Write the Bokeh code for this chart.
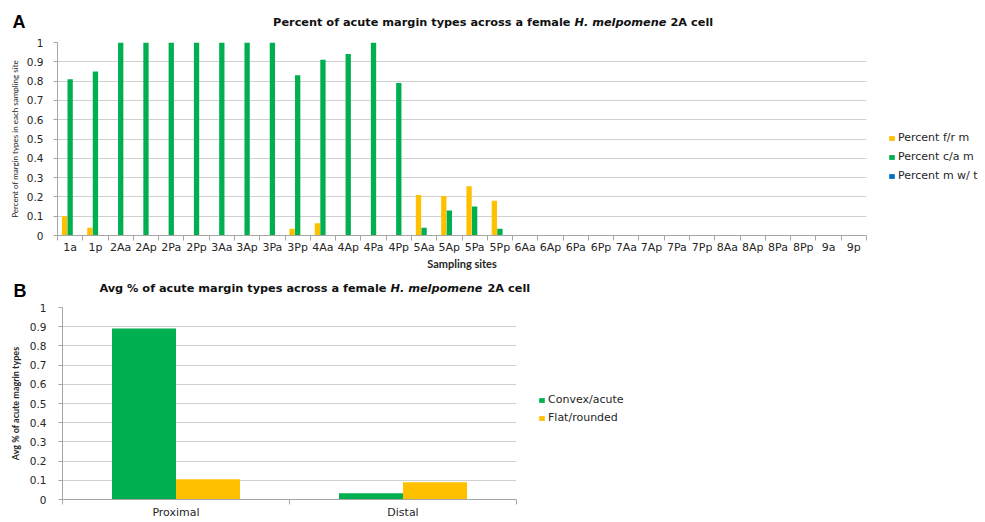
from bokeh.plotting import figure
from bokeh.models import Range1d, FixedTicker, Label, Legend, LegendItem, NumeralTickFormatter
from bokeh.embed import file_html
from bokeh.resources import INLINE

# ---------------- data ----------------
sites = ["1a", "1p", "2Aa", "2Ap", "2Pa", "2Pp", "3Aa", "3Ap", "3Pa", "3Pp",
         "4Aa", "4Ap", "4Pa", "4Pp", "5Aa", "5Ap", "5Pa", "5Pp", "6Aa", "6Ap",
         "6Pa", "6Pp", "7Aa", "7Ap", "7Pa", "7Pp", "8Aa", "8Ap", "8Pa", "8Pp",
         "9a", "9p"]
pct_fr = [0.10, 0.04, 0, 0, 0, 0, 0, 0, 0, 0.035,
          0.063, 0, 0, 0, 0.21, 0.205, 0.255, 0.18, 0, 0,
          0, 0, 0, 0, 0, 0, 0, 0, 0, 0,
          0, 0]
pct_ca = [0.81, 0.85, 1, 1, 1, 1, 1, 1, 1, 0.83,
          0.91, 0.94, 1, 0.79, 0.04, 0.13, 0.15, 0.035, 0, 0,
          0, 0, 0, 0, 0, 0, 0, 0, 0, 0,
          0, 0]
pct_mt = [0, 0, 0, 0, 0, 0, 0, 0, 0, 0,
          0, 0, 0, 0, 0, 0, 0, 0, 0, 0,
          0, 0, 0, 0, 0, 0, 0, 0, 0, 0,
          0, 0]
series_top = ["Percent f/r m", "Percent c/a m", "Percent m w/ t"]

regions = ["Proximal", "Distal"]
avg_convex = [0.89, 0.033]
avg_flat = [0.105, 0.09]
series_bottom = ["Convex/acute", "Flat/rounded"]

y_ticks = [0, 0.1, 0.2, 0.3, 0.4, 0.5, 0.6, 0.7, 0.8, 0.9, 1]

YELLOW = "#FFC000"
GREEN = "#00B050"
BLUE = "#0070C0"
GRID = "#d0d0d0"
AXIS = "#a6a6a6"
TXT = "#262626"
W = 980


def style(p):
    p.outline_line_color = None
    p.xgrid.grid_line_color = None
    p.ygrid.grid_line_color = GRID
    p.ygrid.grid_line_width = 1
    for ax in (p.xaxis[0], p.yaxis[0]):
        ax.axis_line_color = AXIS
        ax.major_label_text_color = TXT
        ax.axis_label_text_color = TXT
    p.yaxis.ticker = FixedTicker(ticks=y_ticks)
    p.yaxis.formatter = NumeralTickFormatter(format="0.[0]")
    p.yaxis.major_tick_line_color = AXIS
    p.yaxis.major_tick_out = 4
    p.yaxis.major_tick_in = 0
    p.yaxis.minor_tick_line_color = None
    p.yaxis.major_label_text_font = "DejaVu Sans"
    p.yaxis.major_label_text_font_size = "10.5px"
    p.xaxis.major_tick_line_color = None
    p.xaxis.major_tick_out = 0
    p.xaxis.major_tick_in = 0
    p.xaxis.minor_tick_line_color = AXIS
    p.xaxis.minor_tick_out = 5
    p.xaxis.minor_tick_in = 0
    p.xaxis.major_label_text_font = "DejaVu Sans"
    p.xaxis.major_label_text_font_size = "11px"


def header(height, letter, letter_x, letter_y, x_first, x_italic, x_last, title_y,
           first, italic, last):
    h = figure(frame_width=W, frame_height=height, x_range=Range1d(0, W), y_range=Range1d(0, height),
               output_backend="svg", toolbar_location=None, min_border=0,
               x_axis_type=None, y_axis_type=None)
    h.outline_line_color = None
    h.xgrid.grid_line_color = None
    h.ygrid.grid_line_color = None
    common = dict(x_units="screen", y_units="screen", y=title_y, text_baseline="middle",
                  text_font="DejaVu Sans", text_font_size="11.3px", text_color="#111111")
    h.add_layout(Label(x=x_first, text=first, text_align="right",
                       text_font_style="bold", **common))
    h.add_layout(Label(x=x_italic, text=italic, text_align="left",
                       text_font_style="bold italic", **common))
    h.add_layout(Label(x=x_last, text=last, text_align="left",
                       text_font_style="bold", **common))
    h.add_layout(Label(x=letter_x, y=letter_y, x_units="screen", y_units="screen", text=letter,
                       text_baseline="middle", text_font="Liberation Sans",
                       text_font_style="bold", text_font_size="18px", text_color="#000000"))
    return h


# ---------------- chart A ----------------
hA = header(34, "A", 12, 13, 570, 574, 670, 12,
            "Percent of acute margin types across a female", "H. melpomene", "2A cell")

n = len(sites)
centers = [i + 0.5 for i in range(n)]
p1 = figure(frame_width=809, frame_height=193, x_range=Range1d(0, n), y_range=Range1d(0, 1),
            output_backend="svg", toolbar_location=None,
            min_border_left=57, min_border_right=0, min_border_top=8, min_border_bottom=30)
style(p1)
r_fr = p1.vbar(x=[c - 0.22 for c in centers], top=pct_fr, width=0.21, fill_color=YELLOW, line_color=None)
r_ca = p1.vbar(x=centers, top=pct_ca, width=0.21, fill_color=GREEN, line_color=None)
r_mt = p1.vbar(x=[c + 0.22 for c in centers], top=pct_mt, width=0.21, fill_color=BLUE, line_color=None)

p1.xaxis.ticker = FixedTicker(ticks=centers, minor_ticks=list(range(n + 1)))
p1.xaxis.major_label_overrides = {c: s for c, s in zip(centers, sites)}
p1.xaxis.major_label_standoff = 0
p1.xaxis.axis_label = "Sampling sites"
p1.xaxis.axis_label_text_font = "Lato"
p1.xaxis.axis_label_text_font_style = "bold"
p1.xaxis.axis_label_text_font_size = "11px"
p1.xaxis.axis_label_standoff = 0
p1.yaxis.major_label_standoff = 10
p1.yaxis.axis_label = "Percent of margin types in each sampling site"
p1.yaxis.axis_label_text_font = "Lato"
p1.yaxis.axis_label_text_font_style = "normal"
p1.yaxis.axis_label_text_font_size = "8px"
p1.yaxis.axis_label_standoff = 4

leg1 = Legend(items=[LegendItem(label=series_top[0], renderers=[r_fr]),
                     LegendItem(label=series_top[1], renderers=[r_ca]),
                     LegendItem(label=series_top[2], renderers=[r_mt])],
              location=(22, 53), glyph_width=7, glyph_height=6, label_standoff=3,
              spacing=6, padding=0, margin=0, border_line_color=None,
              background_fill_alpha=0, label_text_font="DejaVu Sans",
              label_text_font_size="11px", label_height=12, label_text_color=TXT)
p1.add_layout(leg1, "right")

# ---------------- chart B ----------------
hB = header(29, "B", 13, 11, 386, 390, 487, 13,
            "Avg % of acute margin types across a female", "H. melpomene", "2A cell")

m = len(regions)
rc = [i + 0.5 for i in range(m)]
p2 = figure(frame_width=454, frame_height=192, x_range=Range1d(0, m), y_range=Range1d(0, 1),
            output_backend="svg", toolbar_location=None,
            min_border_left=62, min_border_right=0, min_border_top=6, min_border_bottom=16)
style(p2)
r_cv = p2.vbar(x=[c - 0.141 for c in rc], top=avg_convex, width=0.282, fill_color=GREEN, line_color=None)
r_fl = p2.vbar(x=[c + 0.141 for c in rc], top=avg_flat, width=0.282, fill_color=YELLOW, line_color=None)
p2.xaxis.ticker = FixedTicker(ticks=rc, minor_ticks=list(range(m + 1)))
p2.xaxis.major_label_overrides = {c: s for c, s in zip(rc, regions)}
p2.xaxis.major_label_standoff = 1
p2.yaxis.major_label_standoff = 12
p2.yaxis.axis_label = "Avg % of acute magrin types"
p2.yaxis.axis_label_text_font = "Lato"
p2.yaxis.axis_label_text_font_style = "bold"
p2.yaxis.axis_label_text_font_size = "9px"
p2.yaxis.axis_label_standoff = 6

leg2 = Legend(items=[LegendItem(label=series_bottom[0], renderers=[r_cv]),
                     LegendItem(label=series_bottom[1], renderers=[r_fl])],
              location=(22, 75), glyph_width=7, glyph_height=6, label_standoff=3,
              spacing=5, padding=0, margin=0, border_line_color=None,
              background_fill_alpha=0, label_text_font="DejaVu Sans",
              label_text_font_size="11px", label_height=12, label_text_color=TXT)
p2.add_layout(leg2, "right")

open("out.html", "w").write(file_html([hA, p1, hB, p2], INLINE))
